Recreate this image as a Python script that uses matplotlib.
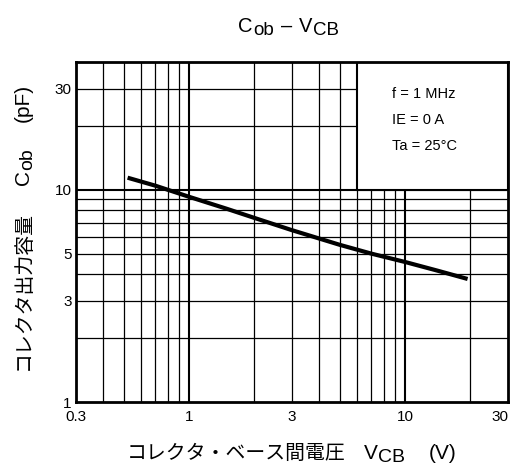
import matplotlib
matplotlib.use("Agg")
import matplotlib.pyplot as plt
from matplotlib.patches import Rectangle
from matplotlib.ticker import FixedLocator, FixedFormatter, NullFormatter

plt.rcParams['font.family'] = ['Liberation Sans', 'Noto Sans CJK JP', 'DejaVu Sans']

# Data
vcb = [0.52, 0.7, 1.0, 1.5, 2.0, 3.0, 5.0, 7.0, 10.0, 14.0, 19.5]
cob = [11.4, 10.45, 9.27, 8.13, 7.38, 6.45, 5.5, 5.0, 4.57, 4.17, 3.8]

x_major = [0.3, 1, 3, 10, 30]
x_major_labels = ['0.3', '1', '3', '10', '30']
y_major = [1, 3, 5, 10, 30]
y_major_labels = ['1', '3', '5', '10', '30']
x_grid = [0.4, 0.5, 0.6, 0.7, 0.8, 0.9, 2, 3, 4, 5, 6, 7, 8, 9, 20]
y_grid = [2, 3, 4, 5, 6, 7, 8, 9, 20, 30]
decades_x = [1, 10]
decades_y = [10]
conditions = ['f = 1 MHz', 'IE = 0 A', 'Ta = 25°C']

W, H = 514, 468
fig = plt.figure(figsize=(W/100, H/100), dpi=100)
ax = fig.add_axes([76/W, 1-402/H, (508-76)/W, (402-62)/H])
ax.set_xscale('log')
ax.set_yscale('log')
ax.set_xlim(0.3, 30)
ax.set_ylim(1, 40)

for xv in x_grid:
    ax.axvline(xv, color='black', lw=0.9, zorder=1)
for yv in y_grid:
    ax.axhline(yv, color='black', lw=0.9, zorder=1)
for xv in decades_x:
    ax.axvline(xv, color='black', lw=1.5, zorder=1)
for yv in decades_y:
    ax.axhline(yv, color='black', lw=1.5, zorder=1)

ax.add_patch(Rectangle((6, 10), 30-6, 40-10, facecolor='white', edgecolor='black',
                       lw=1.5, zorder=2))
for i, t in enumerate(conditions):
    ax.text(0.731, 0.906 - i*0.077, t, transform=ax.transAxes, fontsize=10.5,
            ha='left', va='center', zorder=3)

ax.plot(vcb, cob, color='black', lw=3.0, solid_capstyle='butt', zorder=4)

ax.xaxis.set_major_locator(FixedLocator(x_major))
ax.xaxis.set_major_formatter(FixedFormatter(x_major_labels))
ax.xaxis.set_minor_locator(FixedLocator([]))
ax.xaxis.set_minor_formatter(NullFormatter())
ax.yaxis.set_major_locator(FixedLocator(y_major))
ax.yaxis.set_major_formatter(FixedFormatter(y_major_labels))
ax.yaxis.set_minor_locator(FixedLocator([]))
ax.yaxis.set_minor_formatter(NullFormatter())
ax.tick_params(length=0, labelsize=11)
ax.tick_params(axis='x', pad=6)
ax.tick_params(axis='y', pad=3)

for s in ax.spines.values():
    s.set_linewidth(2.0)
    s.set_zorder(5)

fig.canvas.draw()
xl = ax.get_xticklabels()
xl[-1].set_horizontalalignment('right')

renderer = fig.canvas.get_renderer()


def chain(pieces, x0, y0, rotation=0):
    """pieces: (text, fontsize, drop_px, gap_px). x0,y0 pixel from top-left (baseline start)."""
    pos = 0.0
    for txt, fs, drop, gap in pieces:
        pos += gap
        if rotation == 0:
            px, py = x0 + pos, y0 + drop
        else:
            px, py = x0 + drop, y0 - pos
        t = fig.text(px / W, 1 - py / H, txt, fontsize=fs, rotation=rotation,
                     rotation_mode='anchor', ha='left', va='baseline')
        bb = t.get_window_extent(renderer)
        pos += bb.width if rotation == 0 else bb.height


chain([('C', 14.5, 0, 0), ('ob', 13.5, 3, 0.5), ('–', 14.5, 0, 7), ('V', 14.5, 0, 7), ('CB', 13.5, 3, 0.5)],
      238, 32)
chain([('コレクタ・ベース間電圧', 14.3, 0, 0), ('V', 15, 0, 18), ('CB', 14, 3, 0.5), ('(V)', 15, 0, 24)],
      127, 459)
chain([('コレクタ出力容量', 14.3, 0, 0), ('C', 15, 0, 26), ('ob', 14, 3, 0.5), ('(pF)', 15, 0, 26)],
      29, 370, rotation=90)

fig.savefig('out.png', dpi=100)
